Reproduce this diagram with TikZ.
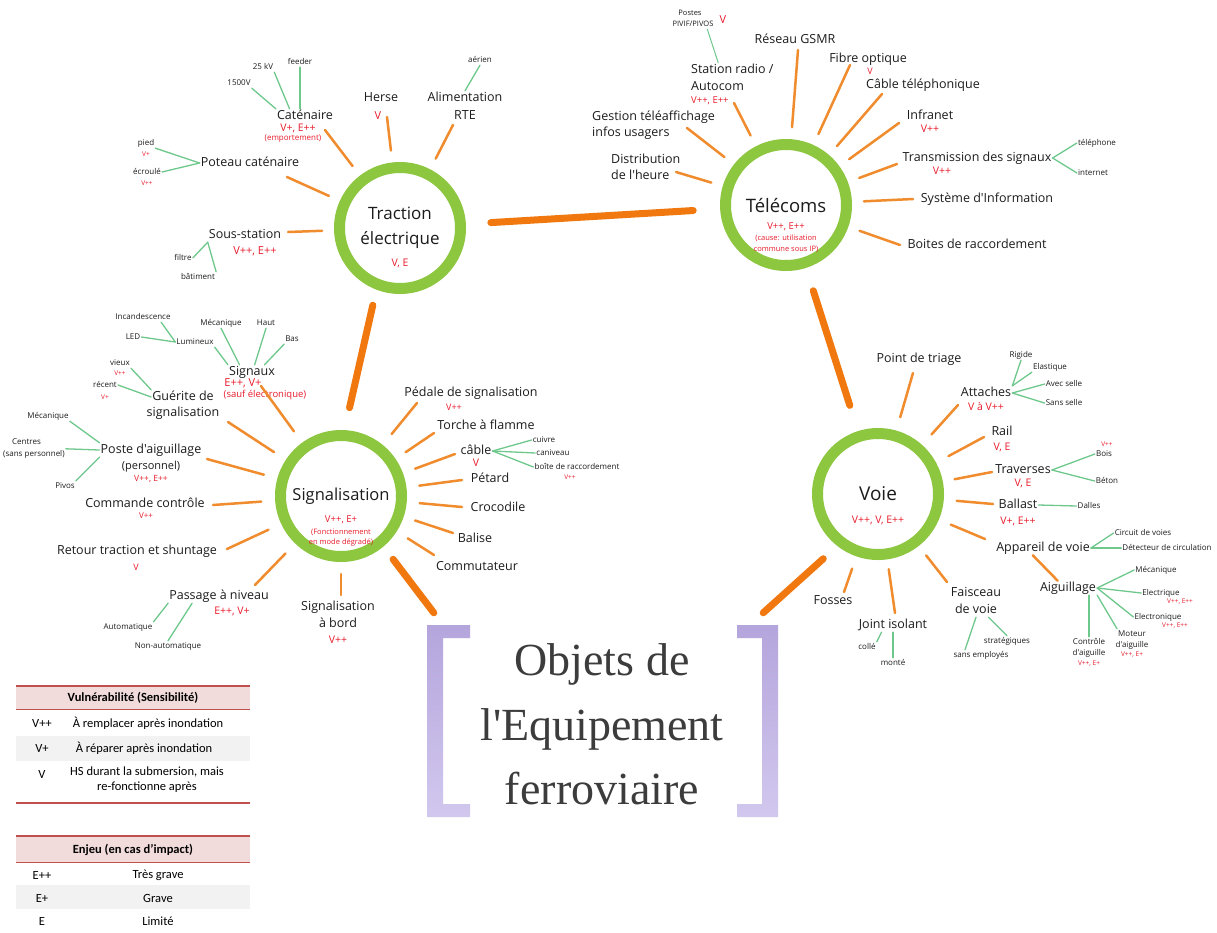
\documentclass[tikz,border=0pt]{standalone}
\usepackage{fontspec}
\newfontfamily\os[Ligatures=TeXOff]{Open Sans}
\newfontfamily\cb{Carlito}
\newfontfamily\ttlfont[Ligatures=TeXOff]{Liberation Serif}
\usetikzlibrary{calc}
\definecolor{ring}{RGB}{141,198,63}
\definecolor{spk}{RGB}{240,140,45}
\definecolor{thk}{RGB}{240,120,15}
\definecolor{glc}{RGB}{110,200,140}
\definecolor{redc}{RGB}{232,28,44}
\definecolor{txt}{RGB}{28,28,28}
\definecolor{lav}{RGB}{180,165,220}
\definecolor{lavl}{RGB}{210,200,238}
\definecolor{thead}{RGB}{242,220,219}
\definecolor{tline}{RGB}{192,80,77}
\definecolor{trow}{RGB}{242,242,242}
\definecolor{ttl}{RGB}{60,60,60}
\newcommand\fs[1]{\os\fontsize{#1}{#1}\selectfont}
\newcommand\mkspoke[4]{\coordinate (#3) at (#4); \draw[spoke,shorten <=#2] (#1) -- (#3);}
\begin{document}
\begin{tikzpicture}[x=1pt,y=-1pt,
  hub/.style={circle, draw=ring, line width=11pt, minimum size=121pt, inner sep=0pt},
  hubt/.style={font=\fs{17}, text=txt, inner sep=0pt},
  lbl/.style={font=\fs{12.5}, text=txt, inner sep=1pt, text height=9pt, text depth=3pt},
  sm/.style={font=\fs{8}, text=txt, inner sep=1pt, text height=6pt, text depth=2pt},
  rd/.style={font=\fs{10.5}, text=redc, inner sep=1pt},
  rds/.style={font=\fs{8}, text=redc, inner sep=1pt},
  rdt/.style={font=\fs{6.5}, text=redc, inner sep=1pt},
  spoke/.style={draw=spk, line width=2.5pt, line cap=round},
  mainlink/.style={draw=thk, line width=7pt, line cap=round},
  gline/.style={draw=glc, line width=1.3pt, line cap=round},
  tb/.style={font=\cb\fontsize{12.5}{14.5}\selectfont, text=black, inner sep=0pt, align=center},
  tbh/.style={font=\cb\bfseries\fontsize{12.5}{14.5}\selectfont, text=black, inner sep=0pt},
  ttext/.style={font=\ttlfont\fontsize{46}{52}\selectfont, text=ttl, anchor=base, inner sep=0pt}
]
\useasboundingbox (0,0) rectangle (1217,932);
\fill[white] (0,0) rectangle (1217,932);

% ---------------- hubs
\node[hub] (trac) at (400,228) {};
\node[hub] (tele) at (786,205) {};
\node[hub] (sig) at (341,496) {};
\node[hub] (voie) at (878,494) {};

\node[hubt] (trac1) at (400,213) {Traction};
\node[hubt] (trac2) at (400,240) {électrique};
\node[rd] (trac3) at (400,263) {V, E};

\node[hubt, font=\fs{18.5}] (tele1) at (786,205) {Télécoms};
\node[rd, font=\fs{9.5}] (tele2) at (786,227) {V++, E++};
\node[rd, font=\fs{7.5}] (tele3) at (786,238) {(cause: utilisation};
\node[rd, font=\fs{7.5}] (tele4) at (786,249) {commune sous IP)};

\node[hubt, font=\fs{16.5}] (sig1) at (341,496) {Signalisation};
\node[rd, font=\fs{9.5}] (sig2) at (341,520) {V++, E+};
\node[rd, font=\fs{7.5}] (sig3) at (341,532) {(Fonctionnement};
\node[rd, font=\fs{7.5}] (sig4) at (341,543) {en mode dégradé)};

\node[hubt, font=\fs{19}] (voie1) at (878,494) {Voie};
\node[rd] (voie2) at (878,520) {V++, V, E++};

% ---------------- title
\node[minimum width=351pt, minimum height=192pt, inner sep=0pt] (title) at (602.5,721) {};
\shade[top color=lav, bottom color=lavl] (427,625) -- (470,625) -- (470,638) -- (443,638) -- (443,804) -- (470,804) -- (470,817) -- (427,817) -- cycle;
\shade[top color=lav, bottom color=lavl] (778,625) -- (737,625) -- (737,638) -- (762,638) -- (762,804) -- (737,804) -- (737,817) -- (778,817) -- cycle;
\node[ttext] (title1) at (602,675) {Objets de};
\node[ttext] (title2) at (602,740) {l'Equipement};
\node[ttext] (title3) at (602,804) {ferroviaire};

% ---------------- main links
\draw[mainlink, shorten <=25pt, shorten >=27pt] (trac) -- (tele);
\draw[mainlink, shorten <=16pt, shorten >=23pt] (trac.249) -- (sig.87);
\draw[mainlink, shorten <=24pt, shorten >=27pt] (tele) -- (voie);
\draw[mainlink, shorten <=16pt] (sig.310) -- ([shift={(7,-12)}]title.north west);
\draw[mainlink, shorten <=19pt] (voie.232) -- ([shift={(-15,-12)}]title.north east);

% ================= TRACTION
\node[lbl] (catn) at (305,116) {Caténaire};
\node[rd] (catr) at (298,128) {V+, E++};
\node[rds] (cate) at (293,139) {(emportement)};
\node[sm] (v1500) at (239,83) {1500V};
\node[sm] (kv25) at (263,67) {25 kV};
\node[sm] (feeder) at (300,62) {feeder};
\node[lbl] (herse) at (381,98) {Herse};
\node[rd, font=\fs{11}] (herser) at (378,116) {V};
\node[lbl] (alim) at (465,98) {Alimentation};
\node[lbl] (rte) at (465,116) {RTE};
\node[sm] (aerien) at (480,60) {aérien};
\node[lbl] (poteau) at (250,163) {Poteau caténaire};
\node[sm] (pied) at (146,143) {pied};
\node[rdt] (piedr) at (146,154) {V+};
\node[sm] (ecroule) at (147,172) {écroulé};
\node[rdt] (ecrouler) at (147,183) {V++};
\node[lbl] (sous) at (245,235) {Sous-station};
\node[rd, font=\fs{11}] (sousr) at (255,251) {V++, E++};
\node[sm] (filtre) at (183,258) {filtre};
\node[sm] (batiment) at (198,277) {bâtiment};

\mkspoke{trac}{12pt}{ecat}{325,130}
\mkspoke{trac}{12pt}{eherse}{387,117}
\mkspoke{trac}{12pt}{ealim}{453,125}
\mkspoke{trac}{12pt}{epoteau}{287,177}
\mkspoke{trac}{12pt}{esous}{288,232}

\draw[gline] (v1500.south east) -- (catn.north west);
\draw[gline] (kv25.south east) -- (catn.155);
\draw[gline] (feeder.south) -- (feeder.south |- catn.north);
\draw[gline] (aerien.south) -- (alim.north);
\draw[gline] (pied.south east) -- (poteau.west);
\draw[gline] (ecroule.east) -- (poteau.west);
\draw[gline] (filtre.east) -- (sous.south west);
\draw[gline] (batiment.north east) -- (sous.south west);

% ================= SIGNALISATION
\node[sm] (incand) at (143,317) {Incandescence};
\node[sm] (led) at (133,337) {LED};
\node[sm] (lumin) at (195,342) {Lumineux};
\node[sm] (meca1) at (221,323) {Mécanique};
\node[sm] (haut) at (266,323) {Haut};
\node[sm] (bas) at (292,339) {Bas};
\node[lbl] (signaux) at (252,372) {Signaux};
\node[rd, font=\fs{11}] (signauxr) at (243,383) {E++, V+};
\node[rd, font=\fs{9.5}] (signauxs) at (265,395) {(sauf électronique)};

\node[sm] (vieux) at (120,363) {vieux};
\node[rdt] (vieuxr) at (120,373) {V++};
\node[sm] (recent) at (105,385) {récent};
\node[rdt] (recentr) at (105,397) {V+};
\node[lbl] (guer1) at (183,397) {Guérite de};
\node[lbl] (guer2) at (183,413) {signalisation};

\node[sm] (meca2) at (48,416) {Mécanique};
\node[sm, anchor=west] (centres) at (11,442) {Centres};
\node[sm, anchor=west] (sansp) at (2,454) {(sans personnel)};
\node[sm] (pivos) at (65,486) {Pivos};
\node[lbl] (poste) at (151,450) {Poste d'aiguillage};
\node[lbl, font=\fs{11}] (poste2) at (151,466) {(personnel)};
\node[rds, font=\fs{8.5}] (poster) at (151,479) {V++, E++};

\node[lbl] (cmd) at (145,504) {Commande contrôle};
\node[rds] (cmdr) at (146,516) {V++};
\node[lbl] (retour) at (137,551) {Retour traction et shuntage};
\node[rd, font=\fs{9}] (retourr) at (136,567) {V};
\node[lbl] (pan) at (219,596) {Passage à niveau};
\node[rd] (panr) at (232,611) {E++, V+};
\node[sm] (auto) at (128,627) {Automatique};
\node[sm] (nonauto) at (168,646) {Non-automatique};

\node[lbl] (bord1) at (338,607) {Signalisation};
\node[lbl] (bord2) at (338,624) {à bord};
\node[rd] (bordr) at (338,640) {V++};

\node[lbl] (pedale) at (471,393) {Pédale de signalisation};
\node[rd, font=\fs{9}] (pedaler) at (454,407) {V++};
\node[lbl] (torche) at (486,426) {Torche à flamme};
\node[lbl] (cable) at (476,451) {câble};
\node[rd] (cabler) at (476,463) {V};
\node[sm] (cuivre) at (544,440) {cuivre};
\node[sm] (caniveau) at (553,453) {caniveau};
\node[sm] (boite) at (577,467) {boîte de raccordement};
\node[rdt] (boiter) at (570,477) {V++};
\node[lbl] (petard) at (490,479) {Pétard};
\node[lbl] (croco) at (498,508) {Crocodile};
\node[lbl] (balise) at (475,539) {Balise};
\node[lbl] (commut) at (477,567) {Commutateur};

\mkspoke{sig}{14pt}{esignaux}{261,386}
\mkspoke{sig}{14pt}{eguer}{228,422}
\mkspoke{sig}{14pt}{eposte}{207,459}
\mkspoke{sig}{14pt}{ecmd}{213,505}
\mkspoke{sig}{14pt}{eretour}{227,549}
\mkspoke{sig}{14pt}{epan}{255,585}
\mkspoke{sig}{12pt}{ebord}{341,595}
\mkspoke{sig}{14pt}{epedale}{417,403}
\mkspoke{sig}{12pt}{etorche}{434,433}
\mkspoke{sig}{13pt}{ecable}{455,454}
\mkspoke{sig}{13pt}{epetard}{462,480}
\mkspoke{sig}{13pt}{ecroco}{462,507}
\mkspoke{sig}{12pt}{ebalise}{453,533}
\mkspoke{sig}{13pt}{ecommut}{434,555}

\draw[gline] (incand.-16) -- (lumin.west);
\draw[gline] (led.east) -- (lumin.west);
\draw[gline] (lumin.south east) -- (signaux.north west);
\draw[gline] (meca1.south) -- (signaux.150);
\draw[gline] (haut.south) -- (signaux.70);
\draw[gline] (bas.south west) -- (signaux.30);
\draw[gline] (vieux.south east) -- (guer1.north west);
\draw[gline] (recent.east) -- (guer1.west);
\draw[gline] (meca2.south east) -- (poste.north west);
\draw[gline] (sansp.north east) -- (poste.west);
\draw[gline] (pivos.north east) -- (poste.south west);
\draw[gline] (cable.east) -- (cuivre.west);
\draw[gline] (cable.east) -- (caniveau.west);
\draw[gline] (cable.east) -- (boite.west);
\draw[gline] (auto.north east) -- (pan.south west);
\draw[gline] (nonauto.north) -- (pan.195);

% ================= TELECOMS
\node[sm, font=\fs{7.5}] (postes) at (690,13) {Postes};
\node[sm, font=\fs{7.5}] (pivif) at (693,24) {PIVIF/PIVOS};
\node[rd, font=\fs{11}] (pivifr) at (723,20) {V};
\node[lbl, anchor=west] (station) at (690,70) {Station radio /};
\node[lbl, anchor=west] (autocom) at (690,87) {Autocom};
\node[rd, font=\fs{9.5}, anchor=west] (stationr) at (690,101) {V++, E++};
\node[lbl] (gsmr) at (795,40) {Réseau GSMR};
\node[lbl] (fibre) at (868,59) {Fibre optique};
\node[rd, font=\fs{9}] (fibrer) at (870,71) {V};
\node[lbl, anchor=west] (cabtel) at (865,85) {Câble téléphonique};
\node[lbl] (infranet) at (930,116) {Infranet};
\node[rd] (infranetr) at (930,129) {V++};
\node[lbl] (trans) at (977,158) {Transmission des signaux};
\node[rd] (transr) at (942,171) {V++};
\node[sm] (telph) at (1097,143) {téléphone};
\node[sm] (internet) at (1093,173) {internet};
\node[lbl] (si) at (987,199) {Système d'Information};
\node[lbl] (boites) at (977,245) {Boites de raccordement};
\node[lbl, anchor=west] (gestion) at (591,117) {Gestion téléaffichage};
\node[lbl, anchor=west] (infos) at (591,133) {infos usagers};
\node[lbl, anchor=west] (distrib) at (610,160) {Distribution};
\node[lbl, anchor=west] (heure) at (610,176) {de l'heure};

\mkspoke{tele}{12pt}{estation}{734,103}
\mkspoke{tele}{12pt}{egsmr}{798,50}
\mkspoke{tele}{12pt}{efibre}{850,65}
\mkspoke{tele}{12pt}{ecabtel}{882,94}
\mkspoke{tele}{12pt}{einfranet}{899,123}
\mkspoke{tele}{12pt}{etrans}{897,164}
\mkspoke{tele}{12pt}{esi}{913,199}
\mkspoke{tele}{12pt}{eboites}{900,245}
\mkspoke{tele}{12pt}{egestion}{687,128}
\mkspoke{tele}{12pt}{edistrib}{676,172}

\draw[gline, line width=1pt] (pivif.-20) -- (station.153);
\draw[gline] (trans.east) -- (telph.west);
\draw[gline] (trans.east) -- (internet.west);

% ================= VOIE
\node[lbl] (triage) at (919,359) {Point de triage};
\node[lbl] (attaches) at (986,393) {Attaches};
\node[rd] (attachesr) at (986,407) {V à V++};
\node[sm] (rigide) at (1021,355) {Rigide};
\node[sm] (elast) at (1050,367) {Elastique};
\node[sm] (avec) at (1064,384) {Avec selle};
\node[sm] (sans) at (1064,403) {Sans selle};
\node[lbl] (rail) at (1002,432) {Rail};
\node[rd] (railr) at (1002,447) {V, E};
\node[lbl] (trav) at (1023,470) {Traverses};
\node[rd] (travr) at (1023,483) {V, E};
\node[rdt] (boisr) at (1107,444) {V++};
\node[sm] (bois) at (1104,454) {Bois};
\node[sm] (beton) at (1107,481) {Béton};
\node[lbl] (ballast) at (1018,505) {Ballast};
\node[rd] (ballastr) at (1018,521) {V+, E++};
\node[sm] (dalles) at (1089,506) {Dalles};
\node[lbl] (appareil) at (1043,548) {Appareil de voie};
\node[sm] (circuit) at (1143,533) {Circuit de voies};
\node[sm] (detect) at (1167,548) {Détecteur de circulation};
\node[lbl] (aig) at (1068,588) {Aiguillage};
\node[sm] (meca3) at (1156,570) {Mécanique};
\node[sm] (elec) at (1161,593) {Electrique};
\node[rdt] (elecr) at (1180,602) {V++, E++};
\node[sm] (electro) at (1158,617) {Electronique};
\node[rdt] (electror) at (1175,626) {V++, E++};
\node[sm] (moteur) at (1132,634) {Moteur};
\node[sm] (moteur2) at (1132,645) {d'aiguille};
\node[rdt] (moteurr) at (1132,655) {V++, E+};
\node[sm] (ctrl) at (1089,642) {Contrôle};
\node[sm] (ctrl2) at (1089,653) {d'aiguille};
\node[rdt] (ctrlr) at (1089,664) {V++, E+};
\node[lbl] (fosses) at (833,601) {Fosses};
\node[lbl] (joint) at (893,625) {Joint isolant};
\node[sm] (colle) at (867,647) {collé};
\node[sm] (monte) at (893,663) {monté};
\node[lbl] (faisc) at (976,593) {Faisceau};
\node[lbl] (devoie) at (976,610) {de voie};
\node[sm] (sansemp) at (981,655) {sans employés};
\node[sm] (strat) at (1007,641) {stratégiques};

\mkspoke{voie}{14pt}{etriage}{913,373}
\mkspoke{voie}{14pt}{eattaches}{958,405}
\mkspoke{voie}{14pt}{erail}{984,437}
\mkspoke{voie}{12pt}{etrav}{992,472}
\mkspoke{voie}{13pt}{eballast}{993,504}
\mkspoke{voie}{13pt}{eappareil}{985,539}
\mkspoke{voie}{12pt}{efaisc}{947,582}
\mkspoke{voie}{10pt}{ejoint}{895,613}
\mkspoke{voie}{13pt}{efosses}{844,592}

\draw[spoke] (appareil.215) -- (aig.145);

\draw[gline] (attaches.north east) -- (rigide.south);
\draw[gline] (attaches.north east) -- (elast.south west);
\draw[gline] (attaches.east) -- (avec.west);
\draw[gline] (attaches.east) -- (sans.west);
\draw[gline] (trav.east) -- (bois.west);
\draw[gline] (trav.east) -- (beton.west);
\draw[gline] (ballast.east) -- (dalles.west);
\draw[gline] (appareil.east) -- (circuit.west);
\draw[gline] (appareil.east) -- (detect.west);
\draw[gline] (aig.east) -- (meca3.west);
\draw[gline] (aig.east) -- (elec.west);
\draw[gline] (aig.east) -- (electro.west);
\draw[gline] (aig.south east) -- (moteur.north west);
\draw[gline] (ctrl.north) -- (ctrl.north |- aig.south);
\draw[gline] (colle.north east) -- (joint.212);
\draw[gline] (monte.north) -- (monte.north |- joint.south);
\draw[gline] (sansemp.162) -- (devoie.south);
\draw[gline] (strat.north) -- (devoie.-30);

% ================= TABLES
\fill[thead] (16,686) rectangle (250,709);
\fill[trow] (16,736) rectangle (250,761);
\draw[tline, line width=1.6pt] (16,686) -- (250,686);
\draw[tline, line width=0.8pt] (16,709) -- (250,709);
\draw[tline, line width=1.2pt] (16,803) -- (250,803);
\node[tbh] (t1h) at (133,698) {Vulnérabilité (Sensibilité)};
\node[tb] (t1a1) at (42,723) {V++};
\node[tb] (t1a2) at (148,723) {À remplacer après inondation};
\node[tb] (t1b1) at (42,748) {V+};
\node[tb] (t1b2) at (144,748) {À réparer après inondation};
\node[tb] (t1c1) at (42,774) {V};
\node[tb, anchor=north] (t1c2) at (147,767) {HS durant la submersion, mais\\re-fonctionne après};

\fill[thead] (16,836) rectangle (250,862);
\fill[trow] (16,885) rectangle (250,909);
\draw[tline, line width=1.6pt] (16,836) -- (250,836);
\draw[tline, line width=0.8pt] (16,862) -- (250,862);
\node[tbh] (t2h) at (133,850) {Enjeu (en cas d’impact)};
\node[tb] (t2a1) at (42,875) {E++};
\node[tb] (t2a2) at (158,875) {Très grave};
\node[tb] (t2b1) at (42,898) {E+};
\node[tb] (t2b2) at (158,898) {Grave};
\node[tb] (t2c1) at (42,921) {E};
\node[tb] (t2c2) at (158,921) {Limité};
\end{tikzpicture}
\end{document}
